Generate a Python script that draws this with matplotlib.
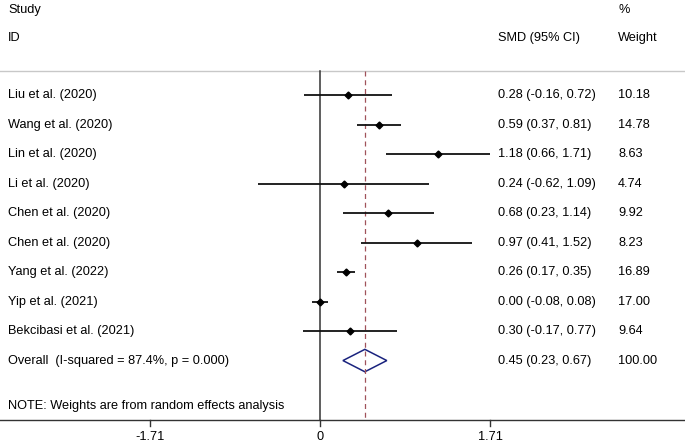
import numpy as np
import matplotlib.pyplot as plt

plt.rcParams['font.family'] = ['Liberation Sans', 'DejaVu Sans']

studies = ["Liu et al. (2020)", "Wang et al. (2020)", "Lin et al. (2020)",
           "Li et al. (2020)", "Chen et al. (2020)", "Chen et al. (2020)",
           "Yang et al. (2022)", "Yip et al. (2021)", "Bekcibasi et al. (2021)"]
smd = [0.28, 0.59, 1.18, 0.24, 0.68, 0.97, 0.26, 0.00, 0.30]
lower = [-0.16, 0.37, 0.66, -0.62, 0.23, 0.41, 0.17, -0.08, -0.17]
upper = [0.72, 0.81, 1.71, 1.09, 1.14, 1.52, 0.35, 0.08, 0.77]
weights = [10.18, 14.78, 8.63, 4.74, 9.92, 8.23, 16.89, 17.00, 9.64]

overall_label = "Overall  (I-squared = 87.4%, p = 0.000)"
overall = 0.45
overall_lo = 0.23
overall_hi = 0.67
overall_w = 100.00

tick_vals = [-1.71, 0, 1.71]

fig = plt.figure(figsize=(6.85, 4.42), dpi=100)
ax = fig.add_axes([0, 0, 1, 1])
ax.set_xlim(-320 / 99.7, 365 / 99.7)
ax.set_ylim(11.76, -3.22)
ax.axis('off')

fs = 9.2
x_lab = -3.13
x_smd = 1.79
x_w = 2.99

# headers
ax.text(x_lab, -2.88, "Study", fontsize=fs, va='center')
ax.text(x_lab, -1.93, "ID", fontsize=fs, va='center')
ax.text(x_smd, -1.93, "SMD (95% CI)", fontsize=fs, va='center')
ax.text(x_w, -2.88, "%", fontsize=fs, va='center')
ax.text(x_w, -1.93, "Weight", fontsize=fs, va='center')
ax.axhline(-0.81, color='#c8c8c8', lw=1.0)

# reference lines
ax.plot([0, 0], [-0.81, 11.02], color='#333333', lw=1.1)
ax.plot([overall, overall], [-0.81, 11.02], color='#a0525a', lw=0.9, ls=(0, (4, 3)))

# studies
rows = np.arange(len(studies))
for i in rows:
    ax.plot([lower[i], upper[i]], [i, i], color='#111111', lw=1.3, solid_capstyle='butt')
    ax.plot(smd[i], i, marker='D', color='black', ms=3.5)
    ax.text(x_lab, i, studies[i], fontsize=fs, va='center')
    ax.text(x_smd, i, f"{smd[i]:.2f} ({lower[i]:.2f}, {upper[i]:.2f})", fontsize=fs, va='center')
    ax.text(x_w, i, f"{weights[i]:.2f}", fontsize=fs, va='center')

# overall diamond
yo = len(studies)
ax.fill([overall_lo, overall, overall_hi, overall, overall_lo],
        [yo, yo - 0.38, yo, yo + 0.38, yo], facecolor='none', edgecolor='#1a237e', lw=1.1)
ax.text(x_lab, yo, overall_label, fontsize=fs, va='center')
ax.text(x_smd, yo, f"{overall:.2f} ({overall_lo:.2f}, {overall_hi:.2f})", fontsize=fs, va='center')
ax.text(x_w, yo, f"{overall_w:.2f}", fontsize=fs, va='center')

ax.text(x_lab, 10.54, "NOTE: Weights are from random effects analysis", fontsize=fs, va='center')

# x axis
ax.axhline(11.02, color='#333333', lw=1.0)
for t in tick_vals:
    ax.plot([t, t], [11.02, 11.22], color='#333333', lw=1.0)
    ax.text(t, 11.59, f"{t:g}", fontsize=fs, ha='center', va='center')

fig.savefig("out.png", dpi=100)
